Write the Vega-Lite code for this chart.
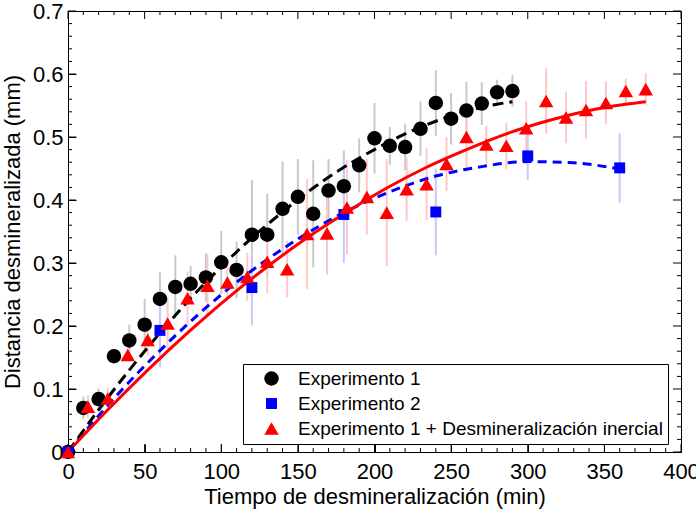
{
  "$schema": "https://vega.github.io/schema/vega-lite/v6.json",
  "width": 613,
  "height": 441,
  "autosize": {"type": "none"},
  "padding": {"left": 68, "top": 11, "right": 15, "bottom": 64},
  "background": "white",
  "title": {
    "text": "Distancia desmineralizada con respecto al tiempo de desmineralización",
    "orient": "bottom",
    "anchor": "start",
    "font": "Liberation Serif",
    "fontSize": 25,
    "fontWeight": "normal",
    "color": "black",
    "offset": 8,
    "dx": 0
  },
  "config": {
    "font": "Liberation Sans",
    "view": {"stroke": "black", "strokeWidth": 1},
    "axis": {
      "grid": false,
      "domain": false,
      "labelColor": "black",
      "titleColor": "black",
      "labelFont": "Liberation Sans",
      "titleFont": "Liberation Sans",
      "labelFontSize": 22,
      "titleFontSize": 22,
      "titleFontWeight": "normal",
      "labelOverlap": false,
      "labelFlush": false
    }
  },
  "datasets": {
    "pts": [
      {"s": "Experimento 1", "t": 0, "d": 0, "lo": 0, "hi": 0},
      {"s": "Experimento 1", "t": 10, "d": 0.070, "lo": 0.052, "hi": 0.088},
      {"s": "Experimento 1", "t": 20, "d": 0.084, "lo": 0.067, "hi": 0.101},
      {"s": "Experimento 1", "t": 30, "d": 0.152, "lo": 0.142, "hi": 0.162},
      {"s": "Experimento 1", "t": 40, "d": 0.177, "lo": 0.152, "hi": 0.202},
      {"s": "Experimento 1", "t": 50, "d": 0.202, "lo": 0.161, "hi": 0.243},
      {"s": "Experimento 1", "t": 60, "d": 0.243, "lo": 0.201, "hi": 0.285},
      {"s": "Experimento 1", "t": 70, "d": 0.262, "lo": 0.212, "hi": 0.312},
      {"s": "Experimento 1", "t": 80, "d": 0.267, "lo": 0.239, "hi": 0.295},
      {"s": "Experimento 1", "t": 90, "d": 0.277, "lo": 0.239, "hi": 0.315},
      {"s": "Experimento 1", "t": 100, "d": 0.301, "lo": 0.251, "hi": 0.351},
      {"s": "Experimento 1", "t": 110, "d": 0.289, "lo": 0.244, "hi": 0.334},
      {"s": "Experimento 1", "t": 120, "d": 0.345, "lo": 0.258, "hi": 0.432},
      {"s": "Experimento 1", "t": 130, "d": 0.345, "lo": 0.280, "hi": 0.410},
      {"s": "Experimento 1", "t": 140, "d": 0.386, "lo": 0.311, "hi": 0.461},
      {"s": "Experimento 1", "t": 150, "d": 0.405, "lo": 0.345, "hi": 0.465},
      {"s": "Experimento 1", "t": 160, "d": 0.378, "lo": 0.293, "hi": 0.463},
      {"s": "Experimento 1", "t": 170, "d": 0.415, "lo": 0.365, "hi": 0.465},
      {"s": "Experimento 1", "t": 180, "d": 0.422, "lo": 0.365, "hi": 0.479},
      {"s": "Experimento 1", "t": 190, "d": 0.455, "lo": 0.412, "hi": 0.498},
      {"s": "Experimento 1", "t": 200, "d": 0.498, "lo": 0.442, "hi": 0.554},
      {"s": "Experimento 1", "t": 210, "d": 0.486, "lo": 0.456, "hi": 0.516},
      {"s": "Experimento 1", "t": 220, "d": 0.484, "lo": 0.447, "hi": 0.521},
      {"s": "Experimento 1", "t": 230, "d": 0.513, "lo": 0.470, "hi": 0.556},
      {"s": "Experimento 1", "t": 240, "d": 0.554, "lo": 0.502, "hi": 0.606},
      {"s": "Experimento 1", "t": 250, "d": 0.529, "lo": 0.488, "hi": 0.570},
      {"s": "Experimento 1", "t": 260, "d": 0.542, "lo": 0.496, "hi": 0.588},
      {"s": "Experimento 1", "t": 270, "d": 0.553, "lo": 0.519, "hi": 0.587},
      {"s": "Experimento 1", "t": 280, "d": 0.571, "lo": 0.551, "hi": 0.591},
      {"s": "Experimento 1", "t": 290, "d": 0.573, "lo": 0.548, "hi": 0.598},
      {"s": "Experimento 2", "t": 0, "d": 0, "lo": 0, "hi": 0},
      {"s": "Experimento 2", "t": 60, "d": 0.193, "lo": 0.135, "hi": 0.251},
      {"s": "Experimento 2", "t": 120, "d": 0.261, "lo": 0.201, "hi": 0.321},
      {"s": "Experimento 2", "t": 180, "d": 0.377, "lo": 0.300, "hi": 0.470},
      {"s": "Experimento 2", "t": 240, "d": 0.381, "lo": 0.312, "hi": 0.450},
      {"s": "Experimento 2", "t": 300, "d": 0.470, "lo": 0.432, "hi": 0.508},
      {"s": "Experimento 2", "t": 360, "d": 0.451, "lo": 0.396, "hi": 0.506},
      {"s": "Experimento 1 + Desmineralización inercial", "t": 0, "d": 0, "lo": 0, "hi": 0},
      {"s": "Experimento 1 + Desmineralización inercial", "t": 13, "d": 0.072, "lo": 0.054, "hi": 0.090},
      {"s": "Experimento 1 + Desmineralización inercial", "t": 26, "d": 0.085, "lo": 0.068, "hi": 0.102},
      {"s": "Experimento 1 + Desmineralización inercial", "t": 39, "d": 0.154, "lo": 0.144, "hi": 0.164},
      {"s": "Experimento 1 + Desmineralización inercial", "t": 52, "d": 0.178, "lo": 0.153, "hi": 0.203},
      {"s": "Experimento 1 + Desmineralización inercial", "t": 65, "d": 0.204, "lo": 0.163, "hi": 0.245},
      {"s": "Experimento 1 + Desmineralización inercial", "t": 78, "d": 0.244, "lo": 0.202, "hi": 0.286},
      {"s": "Experimento 1 + Desmineralización inercial", "t": 91, "d": 0.264, "lo": 0.214, "hi": 0.314},
      {"s": "Experimento 1 + Desmineralización inercial", "t": 104, "d": 0.269, "lo": 0.241, "hi": 0.297},
      {"s": "Experimento 1 + Desmineralización inercial", "t": 117, "d": 0.278, "lo": 0.240, "hi": 0.316},
      {"s": "Experimento 1 + Desmineralización inercial", "t": 130, "d": 0.302, "lo": 0.252, "hi": 0.352},
      {"s": "Experimento 1 + Desmineralización inercial", "t": 143, "d": 0.290, "lo": 0.245, "hi": 0.335},
      {"s": "Experimento 1 + Desmineralización inercial", "t": 156, "d": 0.346, "lo": 0.259, "hi": 0.433},
      {"s": "Experimento 1 + Desmineralización inercial", "t": 169, "d": 0.347, "lo": 0.282, "hi": 0.412},
      {"s": "Experimento 1 + Desmineralización inercial", "t": 182, "d": 0.388, "lo": 0.313, "hi": 0.463},
      {"s": "Experimento 1 + Desmineralización inercial", "t": 195, "d": 0.405, "lo": 0.345, "hi": 0.465},
      {"s": "Experimento 1 + Desmineralización inercial", "t": 208, "d": 0.380, "lo": 0.295, "hi": 0.465},
      {"s": "Experimento 1 + Desmineralización inercial", "t": 221, "d": 0.417, "lo": 0.367, "hi": 0.467},
      {"s": "Experimento 1 + Desmineralización inercial", "t": 234, "d": 0.425, "lo": 0.368, "hi": 0.482},
      {"s": "Experimento 1 + Desmineralización inercial", "t": 247, "d": 0.457, "lo": 0.414, "hi": 0.500},
      {"s": "Experimento 1 + Desmineralización inercial", "t": 260, "d": 0.500, "lo": 0.444, "hi": 0.556},
      {"s": "Experimento 1 + Desmineralización inercial", "t": 273, "d": 0.488, "lo": 0.458, "hi": 0.518},
      {"s": "Experimento 1 + Desmineralización inercial", "t": 286, "d": 0.486, "lo": 0.449, "hi": 0.523},
      {"s": "Experimento 1 + Desmineralización inercial", "t": 299, "d": 0.514, "lo": 0.471, "hi": 0.557},
      {"s": "Experimento 1 + Desmineralización inercial", "t": 312, "d": 0.557, "lo": 0.505, "hi": 0.609},
      {"s": "Experimento 1 + Desmineralización inercial", "t": 325, "d": 0.531, "lo": 0.490, "hi": 0.572},
      {"s": "Experimento 1 + Desmineralización inercial", "t": 338, "d": 0.543, "lo": 0.497, "hi": 0.589},
      {"s": "Experimento 1 + Desmineralización inercial", "t": 351, "d": 0.554, "lo": 0.520, "hi": 0.588},
      {"s": "Experimento 1 + Desmineralización inercial", "t": 364, "d": 0.573, "lo": 0.553, "hi": 0.593},
      {"s": "Experimento 1 + Desmineralización inercial", "t": 377, "d": 0.576, "lo": 0.551, "hi": 0.601}
    ],
    "fits": [
      {"f": "ajuste 2", "t": 0, "d": 0},
      {"f": "ajuste 2", "t": 30, "d": 0.085},
      {"f": "ajuste 2", "t": 60, "d": 0.161},
      {"f": "ajuste 2", "t": 90, "d": 0.229},
      {"f": "ajuste 2", "t": 120, "d": 0.288},
      {"f": "ajuste 2", "t": 150, "d": 0.338},
      {"f": "ajuste 2", "t": 180, "d": 0.380},
      {"f": "ajuste 2", "t": 210, "d": 0.413},
      {"f": "ajuste 2", "t": 240, "d": 0.438},
      {"f": "ajuste 2", "t": 270, "d": 0.453},
      {"f": "ajuste 2", "t": 300, "d": 0.461},
      {"f": "ajuste 2", "t": 330, "d": 0.459},
      {"f": "ajuste 2", "t": 360, "d": 0.449},
      {"f": "ajuste 1", "t": 0, "d": 0},
      {"f": "ajuste 1", "t": 20, "d": 0.067},
      {"f": "ajuste 1", "t": 40, "d": 0.130},
      {"f": "ajuste 1", "t": 60, "d": 0.189},
      {"f": "ajuste 1", "t": 80, "d": 0.244},
      {"f": "ajuste 1", "t": 100, "d": 0.294},
      {"f": "ajuste 1", "t": 120, "d": 0.340},
      {"f": "ajuste 1", "t": 140, "d": 0.381},
      {"f": "ajuste 1", "t": 160, "d": 0.419},
      {"f": "ajuste 1", "t": 180, "d": 0.452},
      {"f": "ajuste 1", "t": 200, "d": 0.480},
      {"f": "ajuste 1", "t": 220, "d": 0.505},
      {"f": "ajuste 1", "t": 240, "d": 0.525},
      {"f": "ajuste 1", "t": 260, "d": 0.541},
      {"f": "ajuste 1", "t": 280, "d": 0.552},
      {"f": "ajuste 1", "t": 290, "d": 0.556},
      {"f": "ajuste 3", "t": 0, "d": 0},
      {"f": "ajuste 3", "t": 26, "d": 0.067},
      {"f": "ajuste 3", "t": 52, "d": 0.130},
      {"f": "ajuste 3", "t": 78, "d": 0.189},
      {"f": "ajuste 3", "t": 104, "d": 0.244},
      {"f": "ajuste 3", "t": 130, "d": 0.294},
      {"f": "ajuste 3", "t": 156, "d": 0.340},
      {"f": "ajuste 3", "t": 182, "d": 0.381},
      {"f": "ajuste 3", "t": 208, "d": 0.419},
      {"f": "ajuste 3", "t": 234, "d": 0.452},
      {"f": "ajuste 3", "t": 260, "d": 0.480},
      {"f": "ajuste 3", "t": 286, "d": 0.505},
      {"f": "ajuste 3", "t": 312, "d": 0.525},
      {"f": "ajuste 3", "t": 338, "d": 0.541},
      {"f": "ajuste 3", "t": 364, "d": 0.552},
      {"f": "ajuste 3", "t": 377, "d": 0.556}
    ],
    "marcas": [
      {"eje": "x", "v": 0, "c": "mayor"}, {"eje": "x", "v": 10, "c": "menor"}, {"eje": "x", "v": 20, "c": "menor"}, {"eje": "x", "v": 30, "c": "menor"}, {"eje": "x", "v": 40, "c": "menor"},
      {"eje": "x", "v": 50, "c": "mayor"}, {"eje": "x", "v": 60, "c": "menor"}, {"eje": "x", "v": 70, "c": "menor"}, {"eje": "x", "v": 80, "c": "menor"}, {"eje": "x", "v": 90, "c": "menor"},
      {"eje": "x", "v": 100, "c": "mayor"}, {"eje": "x", "v": 110, "c": "menor"}, {"eje": "x", "v": 120, "c": "menor"}, {"eje": "x", "v": 130, "c": "menor"}, {"eje": "x", "v": 140, "c": "menor"},
      {"eje": "x", "v": 150, "c": "mayor"}, {"eje": "x", "v": 160, "c": "menor"}, {"eje": "x", "v": 170, "c": "menor"}, {"eje": "x", "v": 180, "c": "menor"}, {"eje": "x", "v": 190, "c": "menor"},
      {"eje": "x", "v": 200, "c": "mayor"}, {"eje": "x", "v": 210, "c": "menor"}, {"eje": "x", "v": 220, "c": "menor"}, {"eje": "x", "v": 230, "c": "menor"}, {"eje": "x", "v": 240, "c": "menor"},
      {"eje": "x", "v": 250, "c": "mayor"}, {"eje": "x", "v": 260, "c": "menor"}, {"eje": "x", "v": 270, "c": "menor"}, {"eje": "x", "v": 280, "c": "menor"}, {"eje": "x", "v": 290, "c": "menor"},
      {"eje": "x", "v": 300, "c": "mayor"}, {"eje": "x", "v": 310, "c": "menor"}, {"eje": "x", "v": 320, "c": "menor"}, {"eje": "x", "v": 330, "c": "menor"}, {"eje": "x", "v": 340, "c": "menor"},
      {"eje": "x", "v": 350, "c": "mayor"}, {"eje": "x", "v": 360, "c": "menor"}, {"eje": "x", "v": 370, "c": "menor"}, {"eje": "x", "v": 380, "c": "menor"}, {"eje": "x", "v": 390, "c": "menor"},
      {"eje": "x", "v": 400, "c": "mayor"},
      {"eje": "y", "v": 0, "c": "mayor"}, {"eje": "y", "v": 0.02, "c": "menor"}, {"eje": "y", "v": 0.04, "c": "menor"}, {"eje": "y", "v": 0.06, "c": "menor"}, {"eje": "y", "v": 0.08, "c": "menor"},
      {"eje": "y", "v": 0.1, "c": "mayor"}, {"eje": "y", "v": 0.12, "c": "menor"}, {"eje": "y", "v": 0.14, "c": "menor"}, {"eje": "y", "v": 0.16, "c": "menor"}, {"eje": "y", "v": 0.18, "c": "menor"},
      {"eje": "y", "v": 0.2, "c": "mayor"}, {"eje": "y", "v": 0.22, "c": "menor"}, {"eje": "y", "v": 0.24, "c": "menor"}, {"eje": "y", "v": 0.26, "c": "menor"}, {"eje": "y", "v": 0.28, "c": "menor"},
      {"eje": "y", "v": 0.3, "c": "mayor"}, {"eje": "y", "v": 0.32, "c": "menor"}, {"eje": "y", "v": 0.34, "c": "menor"}, {"eje": "y", "v": 0.36, "c": "menor"}, {"eje": "y", "v": 0.38, "c": "menor"},
      {"eje": "y", "v": 0.4, "c": "mayor"}, {"eje": "y", "v": 0.42, "c": "menor"}, {"eje": "y", "v": 0.44, "c": "menor"}, {"eje": "y", "v": 0.46, "c": "menor"}, {"eje": "y", "v": 0.48, "c": "menor"},
      {"eje": "y", "v": 0.5, "c": "mayor"}, {"eje": "y", "v": 0.52, "c": "menor"}, {"eje": "y", "v": 0.54, "c": "menor"}, {"eje": "y", "v": 0.56, "c": "menor"}, {"eje": "y", "v": 0.58, "c": "menor"},
      {"eje": "y", "v": 0.6, "c": "mayor"}, {"eje": "y", "v": 0.62, "c": "menor"}, {"eje": "y", "v": 0.64, "c": "menor"}, {"eje": "y", "v": 0.66, "c": "menor"}, {"eje": "y", "v": 0.68, "c": "menor"},
      {"eje": "y", "v": 0.7, "c": "mayor"}
    ]
  },
  "layer": [
    {
      "data": {"name": "pts"},
      "mark": {"type": "point", "opacity": 0},
      "encoding": {
        "x": {
          "field": "t",
          "type": "quantitative",
          "scale": {"domain": [0, 400], "nice": false},
          "axis": {
            "orient": "bottom",
            "title": "Tiempo de desmineralización (min)",
            "values": [0, 50, 100, 150, 200, 250, 300, 350, 400],
            "format": "d",
            "offset": -8,
            "ticks": true,
            "tickSize": 8,
            "tickColor": "#000000",
            "labelPadding": 9,
            "titlePadding": 4
          }
        },
        "y": {
          "field": "d",
          "type": "quantitative",
          "scale": {"domain": [0, 0.7], "nice": false},
          "axis": {
            "orient": "left",
            "title": "Distancia desmineralizada (mm)",
            "values": [0, 0.1, 0.2, 0.3, 0.4, 0.5, 0.6, 0.7],
            "format": ".1~f",
            "offset": -8,
            "ticks": true,
            "tickSize": 8,
            "tickColor": "#000000",
            "labelPadding": 5,
            "titlePadding": 8
          }
        }
      }
    },
    {
      "data": {"name": "marcas"},
      "transform": [{"filter": "datum.eje === 'x' && datum.c === 'mayor'"}],
      "mark": {"type": "tick", "orient": "vertical", "size": 8, "thickness": 1, "color": "black", "opacity": 1, "yOffset": -4},
      "encoding": {
        "x": {"field": "v", "type": "quantitative", "axis": null},
        "y": {"datum": 0, "type": "quantitative", "axis": null}
      }
    },
    {
      "data": {"name": "marcas"},
      "transform": [{"filter": "datum.eje === 'x' && datum.c === 'menor'"}],
      "mark": {"type": "tick", "orient": "vertical", "size": 4, "thickness": 1, "color": "black", "opacity": 1, "yOffset": -2},
      "encoding": {
        "x": {"field": "v", "type": "quantitative", "axis": null},
        "y": {"datum": 0, "type": "quantitative", "axis": null}
      }
    },
    {
      "data": {"name": "marcas"},
      "transform": [{"filter": "datum.eje === 'x' && datum.c === 'mayor'"}],
      "mark": {"type": "tick", "orient": "vertical", "size": 8, "thickness": 1, "color": "black", "opacity": 1, "yOffset": 4},
      "encoding": {
        "x": {"field": "v", "type": "quantitative", "axis": null},
        "y": {"datum": 0.7, "type": "quantitative", "axis": null}
      }
    },
    {
      "data": {"name": "marcas"},
      "transform": [{"filter": "datum.eje === 'x' && datum.c === 'menor'"}],
      "mark": {"type": "tick", "orient": "vertical", "size": 4, "thickness": 1, "color": "black", "opacity": 1, "yOffset": 2},
      "encoding": {
        "x": {"field": "v", "type": "quantitative", "axis": null},
        "y": {"datum": 0.7, "type": "quantitative", "axis": null}
      }
    },
    {
      "data": {"name": "marcas"},
      "transform": [{"filter": "datum.eje === 'y' && datum.c === 'mayor'"}],
      "mark": {"type": "tick", "orient": "horizontal", "size": 8, "thickness": 1, "color": "black", "opacity": 1, "xOffset": 4},
      "encoding": {
        "x": {"datum": 0, "type": "quantitative", "axis": null},
        "y": {"field": "v", "type": "quantitative", "axis": null}
      }
    },
    {
      "data": {"name": "marcas"},
      "transform": [{"filter": "datum.eje === 'y' && datum.c === 'menor'"}],
      "mark": {"type": "tick", "orient": "horizontal", "size": 4, "thickness": 1, "color": "black", "opacity": 1, "xOffset": 2},
      "encoding": {
        "x": {"datum": 0, "type": "quantitative", "axis": null},
        "y": {"field": "v", "type": "quantitative", "axis": null}
      }
    },
    {
      "data": {"name": "marcas"},
      "transform": [{"filter": "datum.eje === 'y' && datum.c === 'mayor'"}],
      "mark": {"type": "tick", "orient": "horizontal", "size": 8, "thickness": 1, "color": "black", "opacity": 1, "xOffset": -4},
      "encoding": {
        "x": {"datum": 400, "type": "quantitative", "axis": null},
        "y": {"field": "v", "type": "quantitative", "axis": null}
      }
    },
    {
      "data": {"name": "marcas"},
      "transform": [{"filter": "datum.eje === 'y' && datum.c === 'menor'"}],
      "mark": {"type": "tick", "orient": "horizontal", "size": 4, "thickness": 1, "color": "black", "opacity": 1, "xOffset": -2},
      "encoding": {
        "x": {"datum": 400, "type": "quantitative", "axis": null},
        "y": {"field": "v", "type": "quantitative", "axis": null}
      }
    },
    {
      "data": {"name": "pts"},
      "transform": [{"filter": "datum.s === 'Experimento 1'"}],
      "mark": {"type": "rule", "strokeWidth": 2, "color": "#c8c8c8"},
      "encoding": {
        "x": {"field": "t", "type": "quantitative", "axis": null},
        "y": {"field": "lo", "type": "quantitative", "axis": null},
        "y2": {"field": "hi"}
      }
    },
    {
      "data": {"name": "pts"},
      "transform": [{"filter": "datum.s === 'Experimento 2'"}],
      "mark": {"type": "rule", "strokeWidth": 2, "color": "#c8c8ff"},
      "encoding": {
        "x": {"field": "t", "type": "quantitative", "axis": null},
        "y": {"field": "lo", "type": "quantitative", "axis": null},
        "y2": {"field": "hi"}
      }
    },
    {
      "data": {"name": "pts"},
      "transform": [{"filter": "datum.s === 'Experimento 1 + Desmineralización inercial'"}],
      "mark": {"type": "rule", "strokeWidth": 2, "color": "#ffc8c8"},
      "encoding": {
        "x": {"field": "t", "type": "quantitative", "axis": null},
        "y": {"field": "lo", "type": "quantitative", "axis": null},
        "y2": {"field": "hi"}
      }
    },
    {
      "data": {"name": "fits"},
      "transform": [{"filter": "datum.f === 'ajuste 2'"}],
      "mark": {"type": "line", "stroke": "#0000ff", "strokeWidth": 3, "strokeDash": [9, 6], "interpolate": "monotone"},
      "encoding": {
        "x": {"field": "t", "type": "quantitative", "axis": null},
        "y": {"field": "d", "type": "quantitative", "axis": null}
      }
    },
    {
      "data": {"name": "fits"},
      "transform": [{"filter": "datum.f === 'ajuste 1'"}],
      "mark": {"type": "line", "stroke": "black", "strokeWidth": 3, "strokeDash": [11, 6], "interpolate": "monotone"},
      "encoding": {
        "x": {"field": "t", "type": "quantitative", "axis": null},
        "y": {"field": "d", "type": "quantitative", "axis": null}
      }
    },
    {
      "data": {"name": "fits"},
      "transform": [{"filter": "datum.f === 'ajuste 3'"}],
      "mark": {"type": "line", "stroke": "#ff0000", "strokeWidth": 3, "interpolate": "monotone"},
      "encoding": {
        "x": {"field": "t", "type": "quantitative", "axis": null},
        "y": {"field": "d", "type": "quantitative", "axis": null}
      }
    },
    {
      "data": {"name": "pts"},
      "mark": {"type": "point", "filled": true, "opacity": 1, "strokeWidth": 0},
      "encoding": {
        "x": {"field": "t", "type": "quantitative", "axis": null},
        "y": {"field": "d", "type": "quantitative", "axis": null},
        "color": {
          "field": "s",
          "type": "nominal",
          "scale": {
            "domain": ["Experimento 1", "Experimento 2", "Experimento 1 + Desmineralización inercial"],
            "range": ["black", "#0000ff", "#ff0000"]
          },
          "legend": {
            "title": null,
            "orient": "none",
            "legendX": 175,
            "legendY": 353,
            "direction": "vertical",
            "labelFontSize": 19,
            "labelFont": "Liberation Sans",
            "labelColor": "black",
            "labelLimit": 600,
            "symbolSize": 70,
            "symbolStrokeWidth": 0,
            "strokeColor": "black",
            "fillColor": "white",
            "padding": 5,
            "rowPadding": 5,
            "symbolOffset": 14,
            "labelOffset": 17
          }
        },
        "shape": {
          "field": "s",
          "type": "nominal",
          "scale": {
            "domain": ["Experimento 1", "Experimento 2", "Experimento 1 + Desmineralización inercial"],
            "range": ["circle", "square", "triangle-up"]
          },
          "legend": {
            "title": null,
            "orient": "none",
            "legendX": 175,
            "legendY": 353,
            "direction": "vertical",
            "labelFontSize": 19,
            "labelFont": "Liberation Sans",
            "labelColor": "black",
            "labelLimit": 600,
            "symbolSize": 70,
            "symbolStrokeWidth": 0,
            "strokeColor": "black",
            "fillColor": "white",
            "padding": 5,
            "rowPadding": 5,
            "symbolOffset": 14,
            "labelOffset": 17
          }
        },
        "size": {
          "field": "s",
          "type": "nominal",
          "scale": {
            "type": "ordinal",
            "domain": ["Experimento 1", "Experimento 2", "Experimento 1 + Desmineralización inercial"],
            "range": [210, 120, 210]
          },
          "legend": null
        }
      }
    }
  ],
  "resolve": {"axis": {"x": "independent", "y": "independent"}}
}
